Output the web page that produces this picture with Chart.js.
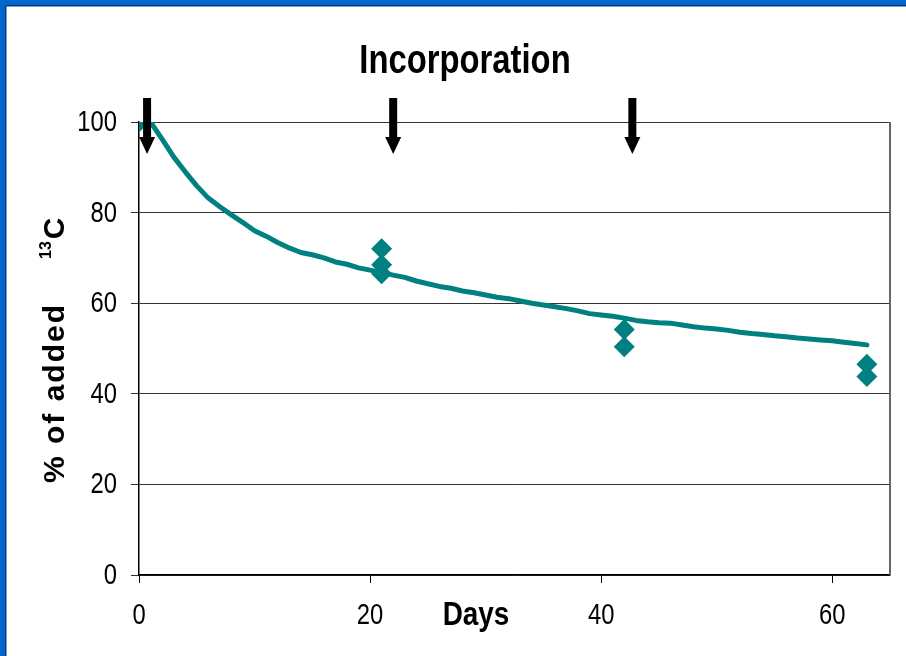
<!DOCTYPE html>
<html><head><meta charset="utf-8">
<script src="https://cdn.jsdelivr.net/npm/chart.js@4"></script>
<style>html,body{margin:0;padding:0;background:#fff;overflow:hidden}canvas{display:block}</style>
</head><body>
<canvas id="c" width="906" height="656"></canvas>
<script>
// ---- data ----
const curveDays = [1,2,3,4,5,6,7,8,9,10,11,12,13,14,15,16,17,18,19,20,21,22,23,24,25,26,27,28,29,30,31,32,33,34,35,36,37,38,39,40,41,42,43,44,45,46,47,48,49,50,51,52,53,54,55,56,57,58,59,60,61,62,63];
const curveValues = [100,96.2,92.3,89.0,85.9,83.2,81.3,79.5,77.8,76.0,74.8,73.4,72.2,71.2,70.7,70.0,69.1,68.6,67.8,67.3,66.8,66.2,65.7,64.9,64.3,63.7,63.3,62.7,62.3,61.8,61.3,61.0,60.5,60.0,59.6,59.2,58.8,58.3,57.7,57.4,57.1,56.7,56.2,55.9,55.7,55.6,55.2,54.8,54.5,54.3,54.0,53.6,53.3,53.1,52.8,52.6,52.3,52.1,51.9,51.7,51.4,51.1,50.8];
const obsDays = [0,21,21,21,42,42,63,63];
const obsValues = [100,72.0,68.5,66.5,54.2,50.4,46.5,43.8];
const arrowDays = [0.7,22,42.7];
const xTickValues = [0,20,40,60];
const yTickValues = [0,20,40,60,80,100];
const titleText = 'Incorporation';
const xTitleText = 'Days';
const yTitleMain = '% of added';
const yTitleSup = '13';
const yTitleEnd = 'C';

const SANS = '"Liberation Sans",Arial,sans-serif';
const NARROW_SCALE = 0.82; // Arial Narrow look from Liberation Sans
const TEAL = '#008080';

function narrowText(ctx, text, x, y, font, align, baseline) {
  ctx.save();
  ctx.font = font;
  ctx.textAlign = align;
  ctx.textBaseline = baseline;
  ctx.translate(x, y);
  ctx.scale(NARROW_SCALE, 1);
  ctx.fillText(text, 0, 0);
  ctx.restore();
}

const decor = {
  id: 'decor',
  beforeDraw(chart) {
    const ctx = chart.ctx;
    ctx.save();
    ctx.fillStyle = '#fff';
    ctx.fillRect(0, 0, chart.width, chart.height);
    ctx.fillStyle = '#0066cc';
    ctx.fillRect(0, 0, chart.width, 6);
    ctx.fillRect(0, 0, 6, chart.height);
    ctx.fillStyle = '#003a80';
    ctx.fillRect(6, 5, chart.width - 6, 1.5);
    ctx.fillRect(5, 6, 1.5, chart.height - 6);
    ctx.restore();
  },
  afterDatasetsDraw(chart) {
    const ctx = chart.ctx, xs = chart.scales.x, ys = chart.scales.y;
    const y100 = ys.getPixelForValue(100);
    ctx.save();
    ctx.fillStyle = '#000';
    arrowDays.forEach(d => {
      const x = xs.getPixelForValue(d);
      ctx.fillRect(x - 4, y100 - 24, 8, 40);
      ctx.beginPath();
      ctx.moveTo(x - 8, y100 + 15);
      ctx.lineTo(x + 8, y100 + 15);
      ctx.lineTo(x, y100 + 32);
      ctx.closePath();
      ctx.fill();
    });
    ctx.restore();
  },
  afterDraw(chart) {
    const ctx = chart.ctx, a = chart.chartArea, xs = chart.scales.x, ys = chart.scales.y;
    ctx.save();
    // plot area right border
    ctx.strokeStyle = '#666';
    ctx.lineWidth = 2;
    ctx.beginPath();
    ctx.moveTo(a.right, a.top);
    ctx.lineTo(a.right, a.bottom);
    ctx.stroke();
    ctx.fillStyle = '#000';
    // tick labels (narrow face) from the scales' own ticks
    const tickFont = '29px ' + SANS;
    ys.ticks.forEach(t => narrowText(ctx, String(t.value), a.left - 22, ys.getPixelForValue(t.value) + 1, tickFont, 'right', 'middle'));
    xs.ticks.forEach(t => narrowText(ctx, String(t.value), xs.getPixelForValue(t.value), a.bottom + 41, tickFont, 'center', 'middle'));
    // title
    narrowText(ctx, titleText, 465, 73, 'bold 40px ' + SANS, 'center', 'alphabetic');
    // x title
    narrowText(ctx, xTitleText, 476, 625, 'bold 34px ' + SANS, 'center', 'alphabetic');
    // y title (rotated)
    ctx.translate(64, 483);
    ctx.rotate(-Math.PI / 2);
    ctx.textAlign = 'left';
    ctx.textBaseline = 'alphabetic';
    ctx.font = 'bold 30px ' + SANS;
    try { ctx.letterSpacing = '2px'; } catch (e) {}
    ctx.fillText(yTitleMain, 0, 0);
    let w = ctx.measureText(yTitleMain).width + 44;
    ctx.font = 'bold 16px ' + SANS;
    try { ctx.letterSpacing = '0px'; } catch (e) {}
    ctx.fillText(yTitleSup, w, -13);
    w += ctx.measureText(yTitleSup).width + 2;
    ctx.font = 'bold 30px ' + SANS;
    ctx.fillText(yTitleEnd, w, 0);
    ctx.restore();
  }
};

new Chart(document.getElementById('c'), {
  data: {
    datasets: [
      {
        type: 'scatter',
        data: obsDays.map((d, i) => ({x: d, y: obsValues[i]})),
        pointStyle: 'rectRot',
        pointRadius: 10.5,
        backgroundColor: TEAL,
        borderColor: TEAL,
        borderWidth: 0
      },
      {
        type: 'line',
        data: curveDays.map((d, i) => ({x: d, y: curveValues[i]})),
        borderColor: TEAL,
        borderWidth: 5,
        borderCapStyle: 'round',
        borderJoinStyle: 'round',
        pointRadius: 0,
        tension: 0,
        fill: false
      }
    ]
  },
  options: {
    responsive: false,
    animation: false,
    events: [],
    layout: {padding: {left: 0, top: 122, right: 16, bottom: 0}},
    plugins: {legend: {display: false}, tooltip: {enabled: false}, title: {display: false}},
    scales: {
      x: {
        type: 'linear', min: 0, max: 65,
        afterBuildTicks(ax) { ax.ticks = xTickValues.map(v => ({value: v})); },
        afterFit(s) { s.height = 81; },
        grid: {drawOnChartArea: false, drawTicks: true, tickLength: 8, color: '#000', lineWidth: 1},
        border: {display: true, color: '#000', width: 1.5},
        ticks: {display: false}
      },
      y: {
        type: 'linear', min: 0, max: 100,
        afterBuildTicks(ax) { ax.ticks = yTickValues.map(v => ({value: v})); },
        afterFit(s) { s.width = 139; },
        grid: {color: '#333', lineWidth: 1, tickLength: 8, drawTicks: true},
        border: {display: true, color: '#000', width: 1.5},
        ticks: {display: false}
      }
    }
  },
  plugins: [decor]
});
</script>
</body></html>
